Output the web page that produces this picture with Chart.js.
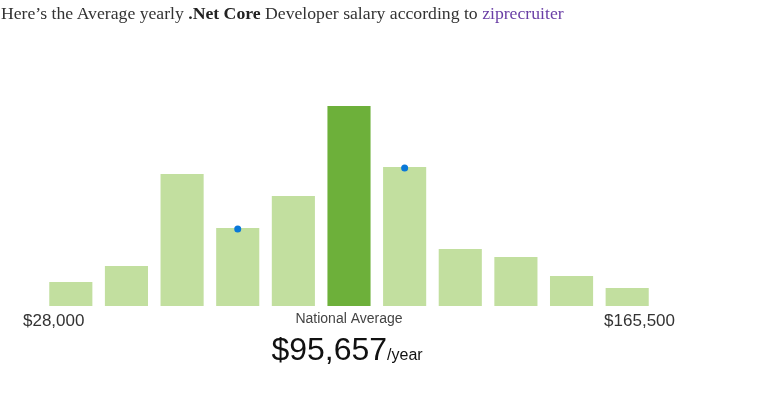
<!DOCTYPE html>
<html>
<head>
<meta charset="utf-8">
<script src="https://cdn.jsdelivr.net/npm/chart.js@4"></script>
<style>
  html, body { margin: 0; padding: 0; background: #fff; }
  #wrap { position: relative; width: 762px; height: 395px; }
  #title {
    position: absolute; left: 1px; top: 3px; white-space: nowrap;
    font-family: "Liberation Serif", serif; font-size: 17.7px; color: #333;
  }
  #title b { color: #222; }
  #title a { color: #6a3fa6; text-decoration: none; }
  canvas { position: absolute; left: 0; top: 0; }
</style>
</head>
<body>
<div id="wrap">
  <canvas id="salaryChart" width="762" height="395"></canvas>
  <div id="title">Here’s the Average yearly <b>.Net Core</b> Developer salary according to <a href="#">ziprecruiter</a></div>
</div>
<script>
// salary bins (lower bound of each bin, $12,500 wide)
const binStarts = [28000, 40500, 53000, 65500, 78000, 90500, 103000, 115500, 128000, 140500, 153000];
// relative bar heights
const barHeights = [24, 40, 132, 78, 110, 200, 139, 57, 49, 30, 18];
// blue markers sitting on two of the bars
const markerValues = [null, null, null, 77, null, null, 138, null, null, null, null];
const highlightIndex = 5;
const tickLabels = ["$28,000", "$165,500"];
const averageLabel = "National Average";
const averageValue = "$95,657";
const averageUnit = "/year";

const lightGreen = "#c2df9f";
const darkGreen = "#6db03a";

// text under the bars
const bottomText = {
    id: "bottomText",
    afterDraw(chart) {
        const { ctx, chartArea } = chart;
        const mid = (chartArea.left + chartArea.right) / 2;
        ctx.save();
        ctx.textBaseline = "alphabetic";
        ctx.fillStyle = "#333";
        ctx.font = "17px 'Liberation Sans', Arial, sans-serif";
        ctx.textAlign = "left";
        ctx.fillText(tickLabels[0], chartArea.left - 20, chartArea.bottom + 20);
        ctx.textAlign = "right";
        ctx.fillText(tickLabels[1], chartArea.right + 20, chartArea.bottom + 20);

        ctx.fillStyle = "#444";
        ctx.font = "14px 'Liberation Sans', Arial, sans-serif";
        ctx.textAlign = "center";
        ctx.fillText(averageLabel, mid, chartArea.bottom + 17);

        ctx.fillStyle = "#111";
        ctx.font = "32px 'Liberation Sans', Arial, sans-serif";
        const w1 = ctx.measureText(averageValue).width;
        ctx.font = "16px 'Liberation Sans', Arial, sans-serif";
        const w2 = ctx.measureText(averageUnit).width;
        const x0 = mid - (w1 + w2) / 2 - 2;
        ctx.textAlign = "left";
        ctx.font = "32px 'Liberation Sans', Arial, sans-serif";
        ctx.fillText(averageValue, x0, chartArea.bottom + 54);
        ctx.font = "16px 'Liberation Sans', Arial, sans-serif";
        ctx.fillText(averageUnit, x0 + w1, chartArea.bottom + 54);
        ctx.restore();
    }
};

document.addEventListener("DOMContentLoaded", () => {
    const ctx = document.getElementById("salaryChart").getContext("2d");

    new Chart(ctx, {
        type: "bar",
        data: {
            labels: binStarts.map(v => "$" + v.toLocaleString("en-US")),
            datasets: [
                {
                    type: "line",
                    data: markerValues,
                    showLine: false,
                    pointRadius: 3.5,
                    pointBackgroundColor: "#0a78d8",
                    pointBorderWidth: 0,
                    order: 0,
                },
                {
                    data: barHeights,
                    backgroundColor: barHeights.map((_, i) => i === highlightIndex ? darkGreen : lightGreen),
                    barPercentage: 0.775,
                    categoryPercentage: 1,
                    order: 1,
                },
            ],
        },
        options: {
            responsive: false,
            animation: false,
            layout: { padding: { left: 43, right: 107, top: 106, bottom: 89 } },
            plugins: { legend: { display: false }, tooltip: { enabled: false } },
            scales: {
                x: { display: false },
                y: { display: false, min: 0, max: 200 },
            },
        },
        plugins: [bottomText],
    });
});
</script>
</body>
</html>
